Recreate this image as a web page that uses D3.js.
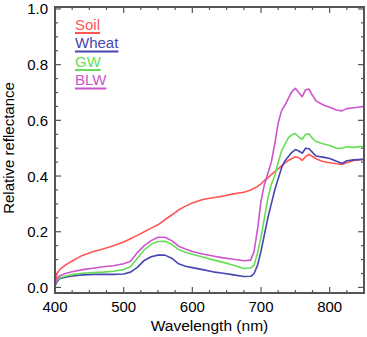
<!DOCTYPE html>
<html>
<head>
<meta charset="utf-8">
<script src="https://cdn.jsdelivr.net/npm/d3@7"></script>
<style>
  body { margin: 0; background: #fff; }
  text { font-family: "Liberation Sans", Arial, sans-serif; }
</style>
</head>
<body>
<div id="chart"></div>
<script>
const wavelengths = [400, 403, 407, 415, 425, 440, 455, 470, 485, 500, 510, 520, 530, 540, 550, 560, 570, 580, 590, 600,
    615, 630, 645, 660, 675, 685, 690, 695, 700, 705, 710, 715, 720, 725, 730, 735, 740, 745, 750, 755, 760, 765, 770,
    775, 780, 790, 800, 810, 818, 825, 835, 850];

const soil = [0.01, 0.05, 0.065, 0.08, 0.095, 0.115, 0.128, 0.138, 0.15, 0.163, 0.175, 0.187, 0.2, 0.213, 0.225, 0.243,
    0.26, 0.278, 0.292, 0.303, 0.316, 0.322, 0.328, 0.336, 0.342, 0.35, 0.356, 0.363, 0.372, 0.384, 0.393, 0.405, 0.416,
    0.426, 0.437, 0.447, 0.456, 0.463, 0.469, 0.466, 0.456, 0.47, 0.478, 0.47, 0.462, 0.452, 0.448, 0.444, 0.442, 0.448,
    0.456, 0.46];

const wheat = [0.005, 0.02, 0.032, 0.037, 0.041, 0.045, 0.047, 0.047, 0.047, 0.048, 0.055, 0.072, 0.097, 0.11, 0.116,
    0.116, 0.105, 0.085, 0.076, 0.071, 0.064, 0.056, 0.051, 0.045, 0.039, 0.04, 0.05, 0.08, 0.13, 0.19, 0.25, 0.30, 0.35,
    0.39, 0.43, 0.455, 0.47, 0.485, 0.495, 0.49, 0.482, 0.5, 0.498, 0.485, 0.472, 0.468, 0.463, 0.453, 0.445, 0.455,
    0.458, 0.46];

const gw = [0.008, 0.025, 0.035, 0.04, 0.046, 0.051, 0.053, 0.055, 0.058, 0.064, 0.074, 0.105, 0.135, 0.155, 0.165,
    0.166, 0.155, 0.136, 0.126, 0.119, 0.109, 0.099, 0.09, 0.08, 0.068, 0.07, 0.08, 0.125, 0.18, 0.25, 0.32, 0.37, 0.4,
    0.45, 0.49, 0.515, 0.538, 0.548, 0.553, 0.54, 0.532, 0.55, 0.552, 0.535, 0.524, 0.516, 0.51, 0.5, 0.5, 0.505, 0.503,
    0.507];

const blw = [0.01, 0.03, 0.042, 0.05, 0.056, 0.064, 0.069, 0.074, 0.078, 0.085, 0.094, 0.125, 0.15, 0.168, 0.18, 0.18,
    0.168, 0.148, 0.138, 0.129, 0.12, 0.113, 0.106, 0.101, 0.096, 0.098, 0.13, 0.21, 0.31, 0.37, 0.41, 0.45, 0.515, 0.59,
    0.635, 0.655, 0.68, 0.703, 0.715, 0.7, 0.685, 0.71, 0.712, 0.69, 0.67, 0.656, 0.647, 0.637, 0.634, 0.642, 0.645,
    0.65];

const seriesNames = ["Soil", "Wheat", "GW", "BLW"];
const seriesValues = [soil, wheat, gw, blw];
const seriesColors = ["#ff5555", "#4646b0", "#66dd55", "#cc55cc"];

const xTicks = [400, 500, 600, 700, 800];
const yTicks = [0, 0.2, 0.4, 0.6, 0.8, 1.0];

const W = 367, H = 337;
const plot = { left: 55, right: 364, top: 7, bottom: 293 };

const svg = d3.select("#chart").append("svg")
    .attr("width", W)
    .attr("height", H);

const x = d3.scaleLinear().domain([400, 850]).range([plot.left, plot.right]);
const y = d3.scaleLinear().domain([-0.02, 1.007]).range([plot.bottom, plot.top]);

// minor + major ticks, all four sides, pointing inward
const axisColor = "#555";
const xMinor = d3.range(400, 851, 25);
const yMinor = d3.range(0, 1.001, 0.05);
const tickG = svg.append("g").attr("stroke", axisColor).attr("stroke-width", 1.2);

xMinor.forEach(v => {
    const len = v % 100 === 0 ? 6 : 3;
    tickG.append("line").attr("x1", x(v)).attr("x2", x(v)).attr("y1", plot.bottom).attr("y2", plot.bottom - len);
    tickG.append("line").attr("x1", x(v)).attr("x2", x(v)).attr("y1", plot.top).attr("y2", plot.top + len);
});
yMinor.forEach((v, i) => {
    const len = i % 4 === 0 ? 6 : 3;
    tickG.append("line").attr("x1", plot.left).attr("x2", plot.left + len).attr("y1", y(v)).attr("y2", y(v));
    tickG.append("line").attr("x1", plot.right).attr("x2", plot.right - len).attr("y1", y(v)).attr("y2", y(v));
});

// lines
const line = d3.line()
    .x((d, i) => x(wavelengths[i]))
    .y(d => y(d));

seriesValues.forEach((vals, i) => {
    svg.append("path")
        .datum(vals)
        .attr("fill", "none")
        .attr("stroke", seriesColors[i])
        .attr("stroke-width", 1.6)
        .attr("stroke-linejoin", "round")
        .attr("d", line);
});

// frame
svg.append("rect")
    .attr("x", plot.left).attr("y", plot.top)
    .attr("width", plot.right - plot.left).attr("height", plot.bottom - plot.top)
    .attr("fill", "none")
    .attr("stroke", axisColor)
    .attr("stroke-width", 2);

// tick labels
svg.selectAll(".xlab").data(xTicks).enter().append("text")
    .attr("x", d => x(d))
    .attr("y", 312)
    .attr("text-anchor", "middle")
    .attr("font-size", 15)
    .text(d => d);

svg.selectAll(".ylab").data(yTicks).enter().append("text")
    .attr("x", 48)
    .attr("y", d => y(d) + 5.5)
    .attr("text-anchor", "end")
    .attr("font-size", 15)
    .text(d => d.toFixed(1));

svg.append("text")
    .attr("x", (plot.left + plot.right) / 2)
    .attr("y", 331)
    .attr("text-anchor", "middle")
    .attr("font-size", 15.5)
    .text("Wavelength (nm)");

svg.append("text")
    .attr("transform", "translate(14, 148) rotate(-90)")
    .attr("text-anchor", "middle")
    .attr("font-size", 15)
    .text("Relative reflectance");

// legend with underlines
seriesNames.forEach((name, i) => {
    const ty = 29.5 + i * 18.5;
    const t = svg.append("text")
        .attr("x", 75)
        .attr("y", ty)
        .attr("font-size", 15)
        .attr("fill", seriesColors[i])
        .text(name);
    const w = t.node().getComputedTextLength();
    svg.append("line")
        .attr("x1", 75).attr("x2", 75 + w)
        .attr("y1", ty + 3.5).attr("y2", ty + 3.5)
        .attr("stroke", seriesColors[i])
        .attr("stroke-width", 2);
});
</script>
</body>
</html>
